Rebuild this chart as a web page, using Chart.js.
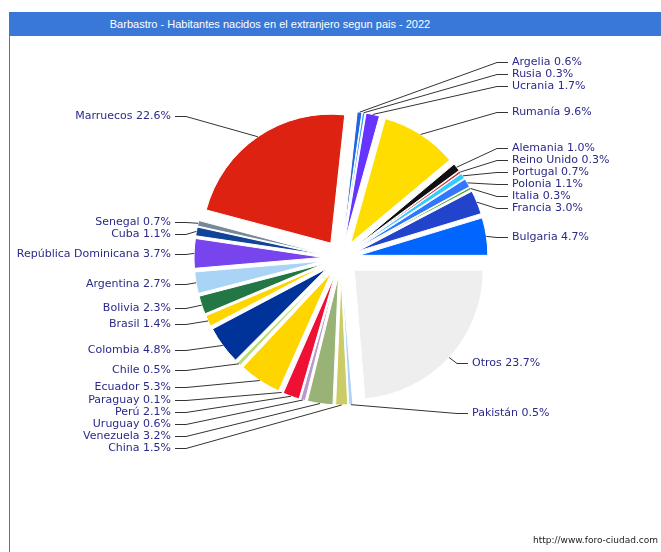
<!DOCTYPE html>
<html>
<head>
<meta charset="utf-8">
<script src="https://cdn.jsdelivr.net/npm/chart.js@4.4.0/dist/chart.umd.min.js"></script>
<style>
html, body { margin: 0; padding: 0; background: #fff; }
body { width: 661px; height: 552px; position: relative; overflow: hidden; }
#bar { position: absolute; left: 9px; top: 12px; width: 652px; height: 24px; background: #3a78d8; }
#title { position: absolute; left: 9px; top: 12px; width: 522px; height: 24px;
         text-align: center; color: #fff; font: 11px "Liberation Sans"; line-height: 24px; }
#edge { position: absolute; left: 9px; top: 36px; width: 1px; height: 516px; background: #3a78d8; }
#src { position: absolute; right: 3px; top: 535px; font: 9px "DejaVu Sans"; color: #222; }
canvas { position: absolute; left: 0; top: 0; }
</style>
</head>
<body>
<div id="bar"></div>
<div id="title">Barbastro - Habitantes nacidos en el extranjero segun pais - 2022</div>
<div id="edge"></div>
<canvas id="pie" width="661" height="552"></canvas>
<div id="src">http://www.foro-ciudad.com</div>
<script>
// slices clockwise, starting at 3 o'clock
const countries = ['Otros', 'Pakistán', 'China', 'Venezuela', 'Uruguay', 'Perú', 'Paraguay', 'Ecuador',
  'Chile', 'Colombia', 'Brasil', 'Bolivia', 'Argentina', 'República Dominicana', 'Cuba', 'Senegal',
  'Marruecos', 'Argelia', 'Rusia', 'Ucrania', 'Rumanía', 'Alemania', 'Reino Unido', 'Portugal',
  'Polonia', 'Italia', 'Francia', 'Bulgaria'];
const shares = [23.7, 0.5, 1.5, 3.2, 0.6, 2.1, 0.1, 5.3,
  0.5, 4.8, 1.4, 2.3, 2.7, 3.7, 1.1, 0.7,
  22.6, 0.6, 0.3, 1.7, 9.6, 1.0, 0.3, 0.7,
  1.1, 0.3, 3.0, 4.7];
const colors = ['#eeeeee', '#aad4f5', '#cccc66', '#99b377', '#bb99cc', '#ee1133', '#66cccc', '#ffd500',
  '#bbdd77', '#003399', '#ffd500', '#227744', '#aad4f5', '#7744ee', '#114499', '#778899',
  '#dd2211', '#2266dd', '#3399ff', '#6633ff', '#ffdd00', '#111111', '#cc3344', '#33ccff',
  '#3377ff', '#55aa33', '#2244cc', '#0066ff'];

const OFFSET = 18;   // every slice pulled out by the same distance
const GAP = 12;      // min vertical distance between labels

// draw each arc shifted outward along its middle angle
const explode = {
  id: 'explode',
  beforeDatasetDraw(chart, args) {
    const ctx = chart.ctx;
    args.meta.data.forEach(arc => {
      const mid = (arc.startAngle + arc.endAngle) / 2;
      ctx.save();
      ctx.translate(Math.cos(mid) * OFFSET, Math.sin(mid) * OFFSET);
      arc.draw(ctx);
      ctx.restore();
    });
    return false;
  }
};

function spreadUp(list) {
  // merge overlapping groups, each centred on the mean of its wanted positions
  let groups = list.map(it => ({ items: [it], mean: it.y }));
  let merged = true;
  while (merged) {
    merged = false;
    for (let k = 0; k < groups.length - 1; k++) {
      const a = groups[k], b = groups[k + 1];
      const aEnd = a.mean + (a.items.length - 1) * GAP / 2;
      const bStart = b.mean - (b.items.length - 1) * GAP / 2;
      if (bStart - aEnd < GAP) {
        const items = a.items.concat(b.items);
        groups.splice(k, 2, { items, mean: items.reduce((t, it) => t + it.y, 0) / items.length });
        merged = true;
        break;
      }
    }
  }
  groups.forEach(g => g.items.forEach((it, j) => { it.ly = g.mean + (j - (g.items.length - 1) / 2) * GAP; }));
}

function spreadDown(list, start) {
  let prev = start;
  list.forEach(it => { it.ly = Math.max(it.y, prev + GAP); prev = it.ly; });
}

const leaderLabels = {
  id: 'leaderLabels',
  afterDatasetsDraw(chart) {
    const ctx = chart.ctx;
    const arcs = chart.getDatasetMeta(0).data;
    const items = arcs.map((arc, i) => {
      const mid = (arc.startAngle + arc.endAngle) / 2;
      const c = Math.cos(mid), s = Math.sin(mid);
      const R = arc.outerRadius + OFFSET;
      // labels above the centre sit a little further out near the top
      const lr = s > 0 ? arc.outerRadius + 26 : arc.outerRadius + 11 + 48 * s * s;
      return {
        text: countries[i] + ' ' + shares[i].toFixed(1) + '%',
        cx: arc.x, ax: arc.x + R * c, ay: arc.y + R * s,
        right: c > 0.02, lower: s > 0,
        y: arc.y + lr * s
      };
    });
    [true, false].forEach(side => {
      const sideItems = items.filter(it => it.right === side);
      const up = sideItems.filter(it => !it.lower).sort((a, b) => a.y - b.y);
      const down = sideItems.filter(it => it.lower).sort((a, b) => a.y - b.y);
      spreadUp(up);
      spreadDown(down, up.length ? up[up.length - 1].ly : -1e9);
    });

    ctx.save();
    ctx.font = '11px "DejaVu Sans"';
    ctx.textBaseline = 'middle';
    ctx.lineWidth = 1;
    ctx.strokeStyle = '#333333';
    ctx.fillStyle = '#2a2a8a';
    items.forEach(it => {
      const ly = Math.round(it.ly) + 0.5;
      let tx, ex, lx;
      if (it.right) {
        tx = it.cx + (it.lower ? 131 : 171);
        ex = tx - 15; lx = tx - 4;
        ctx.textAlign = 'left';
      } else {
        tx = it.cx - 170;
        ex = tx + 15; lx = tx + 4;
        ctx.textAlign = 'right';
      }
      ctx.beginPath();
      ctx.moveTo(it.ax, it.ay);
      ctx.lineTo(ex, ly);
      ctx.lineTo(lx, ly);
      ctx.stroke();
      ctx.fillText(it.text, tx, ly);
    });
    ctx.restore();
  }
};

new Chart(document.getElementById('pie'), {
  type: 'pie',
  data: {
    labels: countries,
    datasets: [{
      data: shares,
      backgroundColor: colors,
      borderColor: '#ffffff',
      borderWidth: 1
    }]
  },
  options: {
    responsive: false,
    animation: false,
    events: [],
    rotation: 90,
    radius: 129,
    layout: { padding: { left: 191, right: 170, top: 108, bottom: 144 } },
    plugins: {
      legend: { display: false },
      tooltip: { enabled: false }
    }
  },
  plugins: [explode, leaderLabels]
});
</script>
</body>
</html>
